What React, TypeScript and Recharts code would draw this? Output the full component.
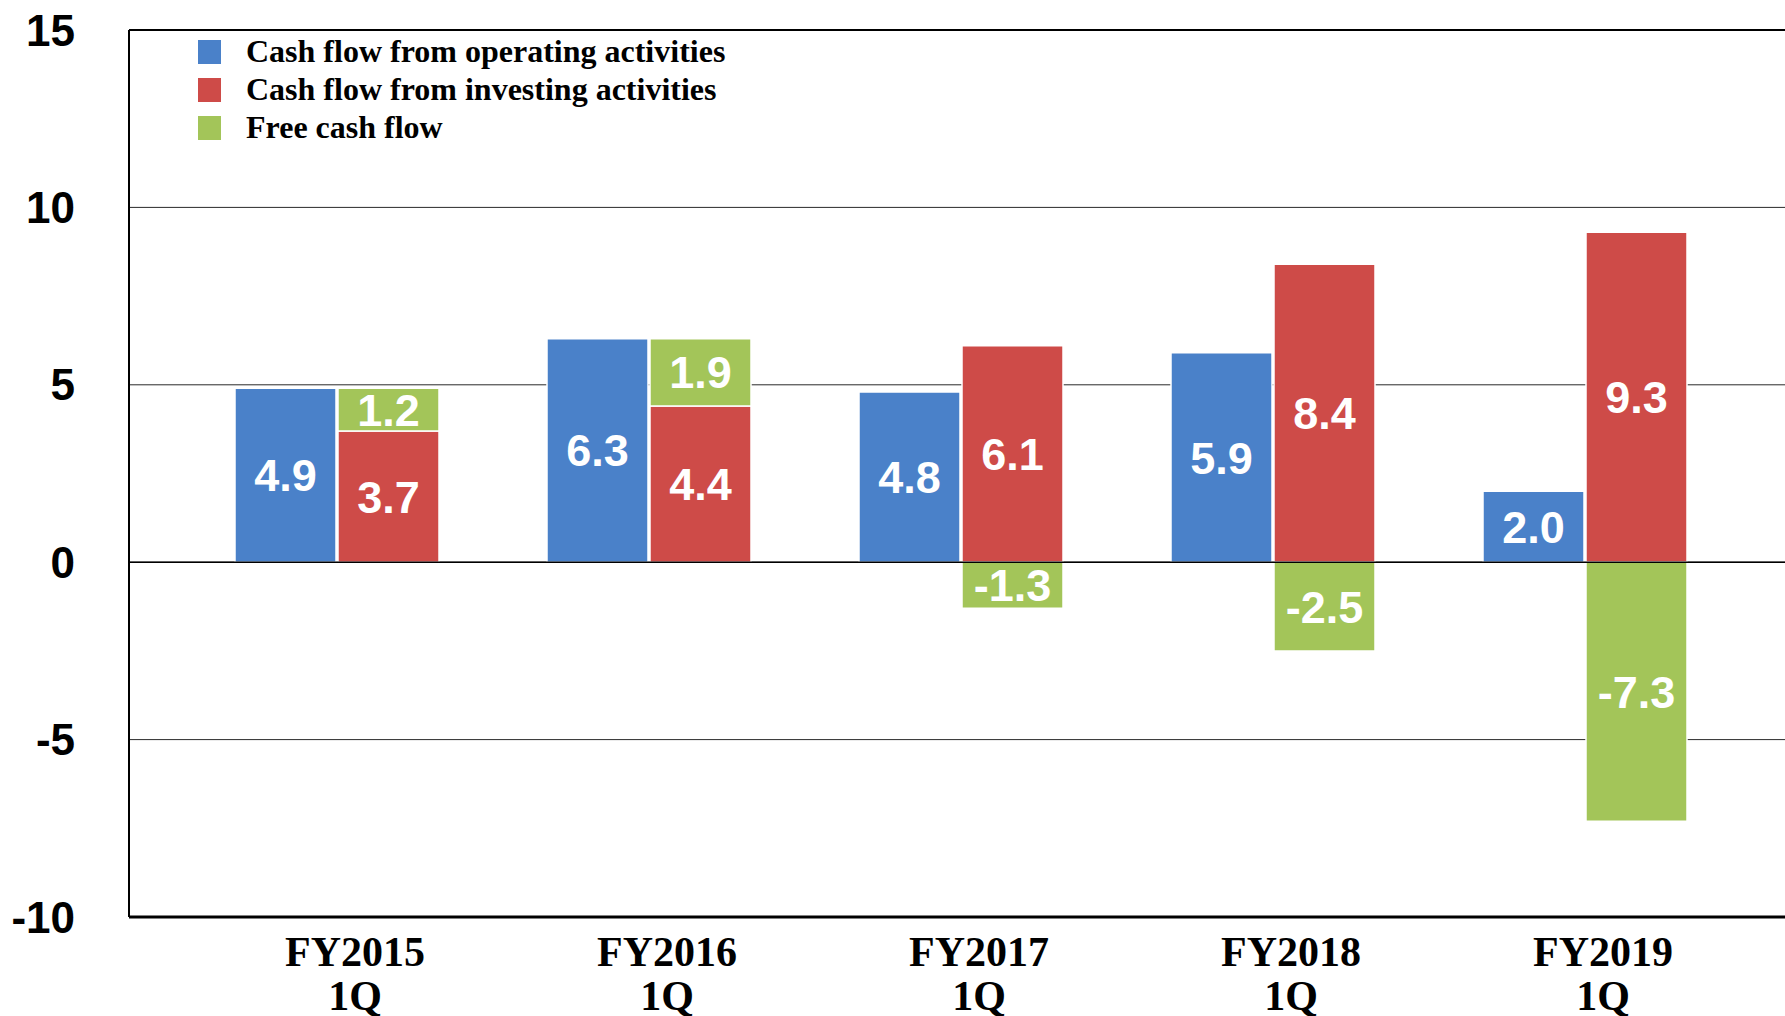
import React from 'react';
import { BarChart, Bar, XAxis, YAxis, CartesianGrid, ReferenceLine, LabelList, Legend } from 'recharts';

const categories = ['FY2015\n1Q', 'FY2016\n1Q', 'FY2017\n1Q', 'FY2018\n1Q', 'FY2019\n1Q'];
const operatingCF = [4.9, 6.3, 4.8, 5.9, 2.0];
const investingCF = [3.7, 4.4, 6.1, 8.4, 9.3];
const freeCF = [1.2, 1.9, -1.3, -2.5, -7.3];
const yTicks = [-10, -5, 0, 5, 10, 15];
const seriesNames = [
  'Cash flow from operating activities',
  'Cash flow from investing activities',
  'Free cash flow',
];

const BLUE = '#4a81c9';
const RED = '#ce4b48';
const GREEN = '#a3c559';

const data = categories.map((c, i) => ({
  category: c,
  operating: operatingCF[i],
  investing: investingCF[i],
  free: freeCF[i],
}));

const SANS = "'Liberation Sans', Arial, sans-serif";
const SERIF = "'Liberation Serif', 'Times New Roman', serif";

const XTick = (props: any) => {
  const { x, y, payload } = props;
  const lines = String(payload.value).split('\n');
  const cx = x + 18;
  return (
    <text x={cx} y={y} textAnchor="middle" fontFamily={SERIF} fontWeight="bold" fontSize={42} fill="#000">
      {lines.map((l, i) => (
        <tspan key={i} x={cx} dy={i === 0 ? 49 : 44}>
          {l}
        </tspan>
      ))}
    </text>
  );
};

const renderLabel = (props: any) => {
  const { x, y, width, height, value } = props;
  const fs = 45;
  return (
    <text
      x={Number(x) + Number(width) / 2}
      y={Number(y) + Number(height) / 2 + fs * 0.355}
      textAnchor="middle"
      fill="#fff"
      fontSize={fs}
      fontWeight="bold"
      fontFamily={SANS}
    >
      {Number(value).toFixed(1)}
    </text>
  );
};

const renderLegend = (props: any) => {
  const payload = [...(props.payload || [])].sort(
    (a: any, b: any) => seriesNames.indexOf(a.value) - seriesNames.indexOf(b.value)
  );
  return (
    <div>
      {payload.map((p: any, i: number) => (
        <div key={i} style={{ display: 'flex', alignItems: 'center', height: 38 }}>
          <div style={{ width: 23, height: 24, background: p.color, flex: 'none' }} />
          <div
            style={{
              marginLeft: 25,
              fontFamily: SERIF,
              fontWeight: 'bold',
              fontSize: 32,
              lineHeight: 1,
              color: '#000',
              position: 'relative',
              top: -1,
              whiteSpace: 'nowrap',
            }}
          >
            {p.value}
          </div>
        </div>
      ))}
    </div>
  );
};

export default function App() {
  return (
    <div style={{ position: 'absolute', left: 0, top: 0, width: 1785, height: 1016, background: '#fff', overflow: 'hidden' }}>
      <style>{'body{margin:0;overflow:hidden}'}</style>
      <BarChart
        width={1785}
        height={1016}
        data={data}
        stackOffset="sign"
        barGap={2}
        margin={{ top: 30, right: 0, bottom: 0, left: 0 }}
        style={{ fontFamily: SANS }}
      >
        <CartesianGrid vertical={false} stroke="#2a2a2a" strokeWidth={1} />
        <XAxis
          dataKey="category"
          height={99}
          axisLine={false}
          tickLine={false}
          tickSize={0}
          tickMargin={0}
          interval={0}
          padding={{ left: 52, right: 44 }}
          tick={<XTick />}
        />
        <YAxis
          type="number"
          domain={[-10, 15]}
          ticks={yTicks}
          width={129}
          axisLine={{ stroke: '#000', strokeWidth: 2 }}
          tickLine={false}
          tickSize={0}
          tickMargin={54}
          interval={0}
          tick={{ fill: '#000', fontSize: 44, fontWeight: 'bold', fontFamily: SANS }}
        />
        <Legend
          verticalAlign="middle"
          align="center"
          layout="vertical"
          content={renderLegend}
          wrapperStyle={{ position: 'absolute', left: 198, top: 33, width: 700 }}
        />
        <Bar
          dataKey="operating"
          name={seriesNames[0]}
          stackId="o"
          fill={BLUE}
          stroke="#fff"
          strokeWidth={1.5}
          barSize={101}
          isAnimationActive={false}
        >
          <LabelList dataKey="operating" position="center" content={renderLabel} />
        </Bar>
        <Bar
          dataKey="investing"
          name={seriesNames[1]}
          stackId="s"
          fill={RED}
          stroke="#fff"
          strokeWidth={1.5}
          barSize={101}
          isAnimationActive={false}
        >
          <LabelList dataKey="investing" position="center" content={renderLabel} />
        </Bar>
        <Bar
          dataKey="free"
          name={seriesNames[2]}
          stackId="s"
          fill={GREEN}
          stroke="#fff"
          strokeWidth={1.5}
          barSize={101}
          isAnimationActive={false}
        >
          <LabelList dataKey="free" position="center" content={renderLabel} />
        </Bar>
        <ReferenceLine y={15} stroke="#000" strokeWidth={2} ifOverflow="visible" />
        <ReferenceLine y={0} stroke="#000" strokeWidth={1.5} ifOverflow="visible" />
        <ReferenceLine y={-10} stroke="#000" strokeWidth={3} ifOverflow="visible" />
      </BarChart>
    </div>
  );
}
